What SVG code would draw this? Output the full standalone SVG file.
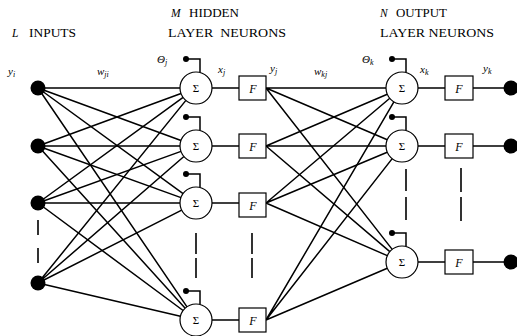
<svg xmlns="http://www.w3.org/2000/svg" width="517" height="336" viewBox="0 0 517 336">
<style>
text{font-family:"Liberation Serif","Times New Roman",serif;fill:#000}
.h{font-size:11.5px}
.it{font-style:italic}
.lbl{font-size:11px;font-style:italic}
.sub{font-size:8px}
.sig{font-size:11px;text-anchor:middle}
.f{font-size:12px;font-style:italic;text-anchor:middle}
.ln{stroke:#000;stroke-width:1.5;fill:none}
.dash{stroke:#000;stroke-width:1.6;fill:none}
.neu{fill:#fff;stroke:#000;stroke-width:1.2}
.box{fill:#fff;stroke:#000;stroke-width:1.2}
.dot{fill:#000}
</style>
<rect width="517" height="336" fill="#fff"/>
<g id="headings">
<text class="h it" x="12" y="37">L</text>
<text class="h" x="29" y="37" textLength="47" lengthAdjust="spacingAndGlyphs">INPUTS</text>
<text class="h it" x="171" y="17">M</text>
<text class="h" x="189" y="17" textLength="50" lengthAdjust="spacingAndGlyphs">HIDDEN</text>
<text class="h" x="168" y="37" textLength="118" lengthAdjust="spacingAndGlyphs" xml:space="preserve">LAYER  NEURONS</text>
<text class="h it" x="380" y="17">N</text>
<text class="h" x="396" y="17" textLength="51" lengthAdjust="spacingAndGlyphs">OUTPUT</text>
<text class="h" x="380" y="37" textLength="114" lengthAdjust="spacingAndGlyphs">LAYER NEURONS</text>
</g>
<g id="labels">
<text class="lbl" x="8" y="75">y<tspan class="sub" dy="2">i</tspan></text>
<text class="lbl" x="97" y="75">w<tspan class="sub" dy="2">ji</tspan></text>
<text class="lbl" x="157" y="63">Θ<tspan class="sub" dy="2">j</tspan></text>
<text class="lbl" x="218" y="73">x<tspan class="sub" dy="2">j</tspan></text>
<text class="lbl" x="270" y="72">y<tspan class="sub" dy="2">j</tspan></text>
<text class="lbl" x="314" y="75">w<tspan class="sub" dy="2">kj</tspan></text>
<text class="lbl" x="362" y="63">Θ<tspan class="sub" dy="2">k</tspan></text>
<text class="lbl" x="420" y="73">x<tspan class="sub" dy="2">k</tspan></text>
<text class="lbl" x="483" y="72">y<tspan class="sub" dy="2">k</tspan></text>
</g>
<g id="connectors">
<path class="ln" d="M38 88L180 88M38 88L181 140.5M38 88L183.1 193.6M38 88L187 306.8"/>
<path class="ln" d="M38 146L181 93.5M38 146L180 146M38 146L181 197.6M38 146L185.2 308.2"/>
<path class="ln" d="M38 203L183.1 97.4M38 203L181 151.4M38 203L180 203M38 203L183.1 310.5"/>
<path class="ln" d="M38 283L185.9 100.4M38 283L183.9 156.5M38 283L181.7 210.2M38 283L180.4 316.3"/>
<path class="ln" d="M212 88H239M212 146H239M212 203H239M212 320H239"/>
<path class="ln" d="M266 88L386 88M266 88L387.3 139.7M266 88L392.2 249.4"/>
<path class="ln" d="M266 146L387.3 94.3M266 146L386 146M266 146L389.8 251.6"/>
<path class="ln" d="M266 203L389.8 98.3M266 203L387.2 152.2M266 203L387.3 255.6"/>
<path class="ln" d="M266 320L393.9 101.8M266 320L392.2 158.6M266 320L387.3 268.3"/>
<path class="ln" d="M418 88H445M418 146H445M418 262H445"/>
<path class="ln" d="M473 88H511M473 146H511M473 262H511"/>
<path class="ln" d="M186 59H200V72.5M186 117H200V130.5M186 174H200V187.5M186 291H200V304.5"/>
<path class="ln" d="M392 59H406V72.5M392 117H406V130.5M392 233H406V246.5"/>
<circle class="dot" cx="186" cy="59" r="3"/>
<circle class="dot" cx="186" cy="117" r="3"/>
<circle class="dot" cx="186" cy="174" r="3"/>
<circle class="dot" cx="186" cy="291" r="3"/>
<circle class="dot" cx="392" cy="59" r="3"/>
<circle class="dot" cx="392" cy="117" r="3"/>
<circle class="dot" cx="392" cy="233" r="3"/>
<path class="dash" d="M38 220V235M38 248V263"/>
<path class="dash" d="M196 233V254M196 258V278"/>
<path class="dash" d="M252 233V254M252 258V278"/>
<path class="dash" d="M406 169V191M406 197V220"/>
<path class="dash" d="M461 168V192M461 197V221"/>
</g>
<g id="inputs">
<circle class="dot" cx="38" cy="88" r="7.5"/>
<circle class="dot" cx="38" cy="146" r="7.5"/>
<circle class="dot" cx="38" cy="203" r="7.5"/>
<circle class="dot" cx="38" cy="283" r="7.5"/>
</g>
<g id="hidden1"><circle class="neu" cx="196" cy="88" r="16"/><text class="sig" x="196" y="92">Σ</text><rect class="box" x="239" y="76" width="27" height="24"/><text class="f" x="253" y="93">F</text></g>
<g id="hidden2"><circle class="neu" cx="196" cy="146" r="16"/><text class="sig" x="196" y="150">Σ</text><rect class="box" x="239" y="134" width="27" height="24"/><text class="f" x="253" y="151">F</text></g>
<g id="hidden3"><circle class="neu" cx="196" cy="203" r="16"/><text class="sig" x="196" y="207">Σ</text><rect class="box" x="239" y="193" width="27" height="24"/><text class="f" x="253" y="210">F</text></g>
<g id="hidden4"><circle class="neu" cx="196" cy="320" r="16"/><text class="sig" x="196" y="324">Σ</text><rect class="box" x="239" y="308" width="27" height="24"/><text class="f" x="253" y="325">F</text></g>
<g id="output1"><circle class="neu" cx="402" cy="88" r="16"/><text class="sig" x="402" y="92">Σ</text><rect class="box" x="445" y="76" width="28" height="24"/><text class="f" x="459" y="93">F</text><circle class="dot" cx="511" cy="88" r="7.5"/></g>
<g id="output2"><circle class="neu" cx="402" cy="146" r="16"/><text class="sig" x="402" y="150">Σ</text><rect class="box" x="445" y="134" width="28" height="24"/><text class="f" x="459" y="151">F</text><circle class="dot" cx="511" cy="146" r="7.5"/></g>
<g id="output3"><circle class="neu" cx="402" cy="262" r="16"/><text class="sig" x="402" y="266">Σ</text><rect class="box" x="445" y="250" width="28" height="24"/><text class="f" x="459" y="267">F</text><circle class="dot" cx="511" cy="262" r="7.5"/></g>
</svg>
